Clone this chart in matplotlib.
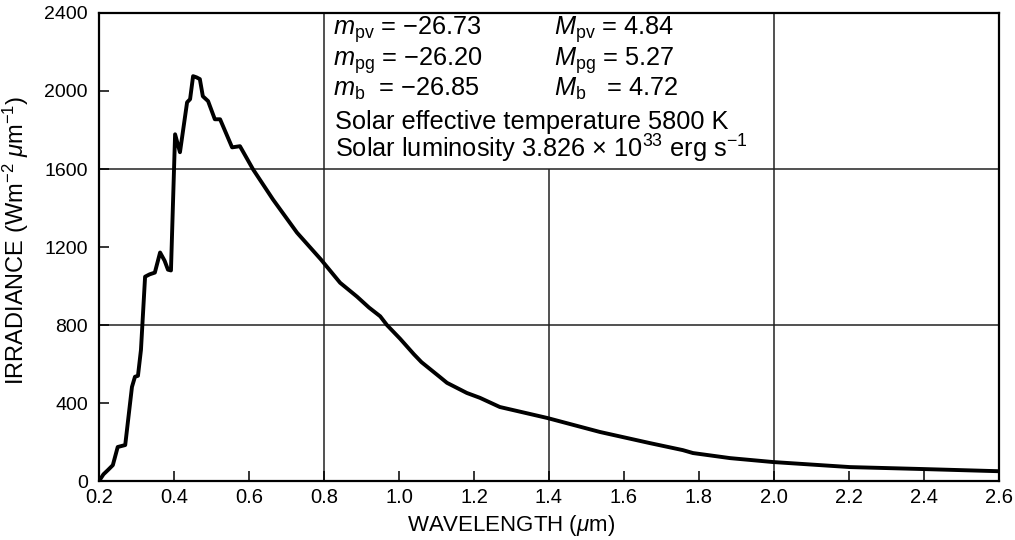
import numpy as np
import matplotlib
matplotlib.use("Agg")   # headless rendering
import matplotlib.pyplot as plt
import matplotlib.ticker as mticker

# ---------------------------------------------------------------------------
# Data: solar spectral irradiance
# ---------------------------------------------------------------------------

wavelength = [0.200, 0.212, 0.224, 0.237, 0.250, 0.270, 0.288, 0.296, 0.304,
              0.312, 0.323, 0.335, 0.349, 0.363, 0.375, 0.384, 0.392, 0.397,
              0.403, 0.416, 0.435, 0.443, 0.451, 0.460, 0.469, 0.477, 0.491,
              0.509, 0.523, 0.555, 0.576, 0.611, 0.664, 0.728, 0.792, 0.843,
              0.888, 0.920, 0.950, 0.968, 1.003, 1.040, 1.060, 1.109, 1.128,
              1.181, 1.216, 1.269, 1.395, 1.536, 1.669, 1.757, 1.784, 1.883,
              1.997, 2.203, 2.397, 2.597]
irradiance = [0, 35, 57, 82, 175, 185, 483, 535, 540,
              673, 1048, 1060, 1069, 1172, 1130, 1084, 1080, 1400,
              1778, 1686, 1942, 1958, 2076, 2070, 2061, 1973, 1948,
              1855, 1855, 1711, 1717, 1598, 1444, 1274, 1136, 1017,
              946, 890, 845, 800, 730, 650, 610, 534, 504,
              452, 427, 380, 324, 252, 195, 159, 144, 118,
              98, 72, 62, 51]

x_ticks = [0.2, 0.4, 0.6, 0.8, 1.0, 1.2, 1.4, 1.6, 1.8, 2.0, 2.2, 2.4, 2.6]
y_ticks = [0, 400, 800, 1200, 1600, 2000, 2400]

# grid lines: the 0.8 / 2.0 / 1600 lines also frame the text box
grid_x_full = [0.8, 2.0]
grid_x_low = [1.4]          # stops at the box
grid_y = [800, 1600]
box_bottom = 1600

left_col = [r"$m_{\rm pv}$ = $-$26.73",
            r"$m_{\rm pg}$ = $-$26.20",
            r"$m_{\rm b}$  = $-$26.85"]
right_col = [r"$M_{\rm pv}$ = 4.84",
             r"$M_{\rm pg}$ = 5.27",
             r"$M_{\rm b}$   = 4.72"]
notes = ["Solar effective temperature 5800 K",
         r"Solar luminosity 3.826 $\times$ 10$^{33}$ erg s$^{-1}$"]

# ---------------------------------------------------------------------------
# Style
# ---------------------------------------------------------------------------

plt.rcParams["font.family"] = ["Liberation Sans", "DejaVu Sans"]
plt.rcParams["mathtext.fontset"] = "custom"
plt.rcParams["mathtext.rm"] = "Liberation Sans"
plt.rcParams["mathtext.it"] = "Liberation Sans:italic"
plt.rcParams["mathtext.bf"] = "Liberation Sans:bold"

fig = plt.figure(figsize=(10.15, 5.4), dpi=100)
ax = fig.add_axes([0.0975, 0.109, 0.8867, 0.867])

ax.plot(wavelength, irradiance, color="black", lw=2.8,
        solid_joinstyle="round", solid_capstyle="round", zorder=3)

for gx in grid_x_full:
    ax.axvline(gx, color="#222222", lw=1.1, zorder=1)
for gx in grid_x_low:
    ax.vlines(gx, 0, box_bottom, color="#222222", lw=1.1, zorder=1)
for gy in grid_y:
    ax.axhline(gy, color="#222222", lw=1.1, zorder=1)

ax.set_xlim(x_ticks[0], x_ticks[-1])
ax.set_ylim(y_ticks[0], y_ticks[-1])
ax.set_xticks(x_ticks)
ax.set_yticks(y_ticks)
ax.xaxis.set_major_formatter(mticker.FormatStrFormatter("%.1f"))
ax.tick_params(direction="in", length=7, width=1.1, labelsize=14,
               colors="black", pad=5)
ax.tick_params(axis="x", labelsize=14.5)
ax.tick_params(axis="y", pad=8)
for sp in ax.spines.values():
    sp.set_linewidth(1.6)

ax.set_xlabel(r"WAVELENGTH ($\mu$m)", fontsize=16)
ax.xaxis.set_label_coords(0.458, -0.068)
ax.set_ylabel(r"IRRADIANCE (Wm$^{-2}$ $\mu$m$^{-1}$)", fontsize=17)
ax.yaxis.set_label_coords(-0.075, 0.515)

# text block inside the framed box (baselines)
line_y = [2287, 2128, 1973, 1804, 1660]
for i, s in enumerate(left_col):
    ax.text(0.824, line_y[i], s, fontsize=18.3, va="baseline", ha="left")
for i, s in enumerate(right_col):
    ax.text(1.413, line_y[i], s, fontsize=18.3, va="baseline", ha="left")
for i, s in enumerate(notes):
    ax.text(0.829, line_y[3 + i], s, fontsize=18.3, va="baseline", ha="left")

fig.savefig("out.png", dpi=100)
plt.close(fig)
